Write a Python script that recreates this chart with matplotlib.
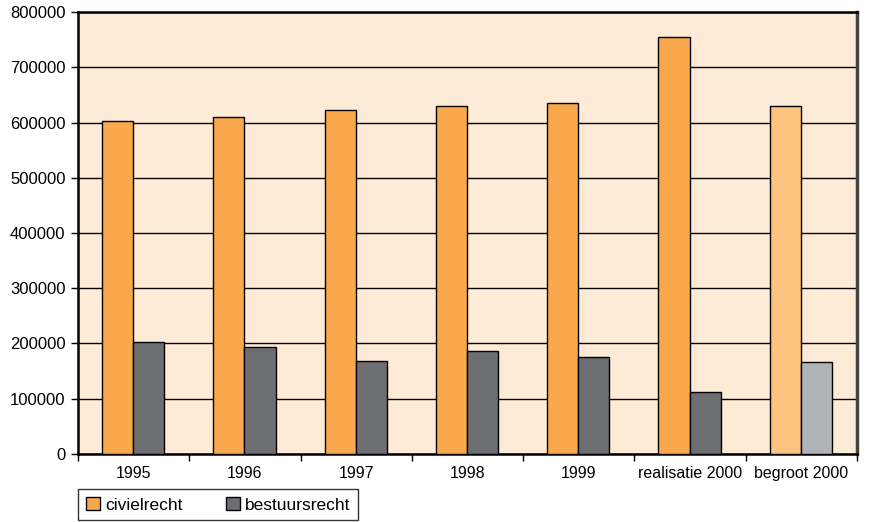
import matplotlib
matplotlib.use("Agg")
import matplotlib.pyplot as plt
import numpy as np
from matplotlib.patches import Patch

categories = ["1995", "1996", "1997", "1998", "1999", "realisatie 2000", "begroot 2000"]
civielrecht = [603000, 610000, 622000, 630000, 635000, 755000, 629000]
bestuursrecht = [202000, 193000, 168000, 186000, 175000, 113000, 167000]

c_civ = ["#F9A94B"] * 6 + ["#FDC47F"]
c_bes = ["#6D6E71"] * 6 + ["#B2B3B6"]

plt.rcParams['font.family'] = ['Liberation Sans', 'DejaVu Sans']
fig = plt.figure(figsize=(8.69, 5.22), dpi=100)
ax = fig.add_axes([0.0898, 0.1303, 0.8964, 0.8467])
ax.set_facecolor("#FDEBD7")

x = np.arange(len(categories))
w = 0.28
ax.bar(x - w/2 - 0.005, civielrecht, w, color=c_civ, edgecolor="black", linewidth=1, zorder=3)
ax.bar(x + w/2 - 0.005, bestuursrecht, w, color=c_bes, edgecolor="black", linewidth=1, zorder=3)

ax.set_xlim(-0.5, len(categories) - 0.5)
ax.set_ylim(0, 800000)
ax.set_yticks(np.arange(0, 800001, 100000))
ax.set_yticklabels([str(v) for v in range(0, 800001, 100000)], fontsize=12)
ax.yaxis.grid(True, color="black", linewidth=1, zorder=1)
ax.set_xticks(x)
ax.set_xticklabels(categories, fontsize=11.5)
ax.set_xticks(np.arange(-0.5, len(categories)), minor=True)
ax.tick_params(axis='x', which='major', length=0, pad=9)
ax.tick_params(axis='x', which='minor', length=5, width=1, direction='out')
ax.tick_params(axis='y', length=5, width=1, direction='out', pad=4)
for s in ax.spines.values():
    s.set_linewidth(1.8)
    s.set_color("black")
ax.spines['right'].set_color("#444444")
ax.spines['right'].set_linewidth(2.5)

handles = [Patch(facecolor="#F9A94B", edgecolor="black", label="civielrecht"),
           Patch(facecolor="#6D6E71", edgecolor="black", label="bestuursrecht")]
leg = fig.legend(handles=handles, loc="lower left", bbox_to_anchor=(0.0898, 0.003),
                 borderaxespad=0,
                 ncol=2, fontsize=12.5, frameon=True, fancybox=False, edgecolor="black",
                 handlelength=0.8, handleheight=0.8, handletextpad=0.3, columnspacing=2.5,
                 borderpad=0.45)
leg.get_frame().set_linewidth(1)

fig.savefig("out.png", dpi=100)
